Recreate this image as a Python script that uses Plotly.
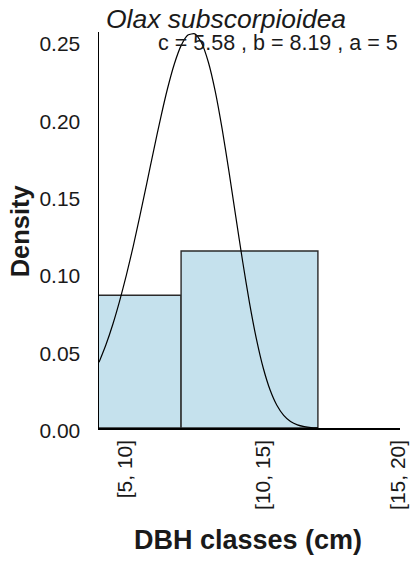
import plotly.graph_objects as go

# ---- data ----
class_labels = ["[5, 10]", "[10, 15]", "[15, 20]"]
class_tick_pos = [10.45, 15.5, 20.45]          # DBH (cm) positions of the class labels
bar_centers = [10.0, 15.0]                     # DBH (cm)
bar_widths = [5.0, 5.0]
bar_density = [0.0857, 0.1143]

# fitted Weibull curve (c = 5.58, b = 8.19, a = 5)
curve_dbh = [9.5, 9.75, 10.0, 10.25, 10.5, 10.75, 11.0, 11.25, 11.5, 11.75,
             12.0, 12.25, 12.5, 12.75, 13.0, 13.25, 13.5, 13.75, 14.0, 14.25,
             14.5, 14.75, 15.0, 15.25, 15.5, 15.75, 16.0, 16.25, 16.5, 16.75,
             17.0, 17.25, 17.5]
curve_density = [0.0424, 0.0536, 0.0667, 0.0818, 0.0987, 0.1173, 0.1374, 0.1583,
                 0.1795, 0.2000, 0.2189, 0.2349, 0.2469, 0.2537, 0.2545, 0.2486,
                 0.2360, 0.2172, 0.1931, 0.1655, 0.1363, 0.1075, 0.0808, 0.0577,
                 0.0389, 0.0247, 0.0147, 0.0082, 0.0042, 0.0020, 0.0009, 0.0003,
                 0.0001]

y_ticks = [0.00, 0.05, 0.10, 0.15, 0.20, 0.25]

species = "Olax subscorpioidea"
params_text = "c = 5.58 , b = 8.19 , a = 5"
x_title = "DBH classes (cm)"
y_title = "Density"

FONT = "Liberation Sans, Arial, sans-serif"
TXT = "#1a1a1a"

fig = go.Figure()
fig.add_trace(go.Bar(
    x=bar_centers, y=bar_density, width=bar_widths,
    marker=dict(color="#c5e1ed", line=dict(color="#2a2a2a", width=1.4)),
    showlegend=False, hoverinfo="skip",
))
fig.add_trace(go.Scatter(
    x=curve_dbh, y=curve_density, mode="lines",
    line=dict(color="#000000", width=1.2, shape="spline", smoothing=0.6),
    showlegend=False, hoverinfo="skip",
))

fig.update_layout(
    width=412, height=561,
    margin=dict(l=99, r=12, t=32, b=133, pad=0, autoexpand=False),
    paper_bgcolor="white", plot_bgcolor="white",
    font=dict(family=FONT, color=TXT),
    bargap=0,
    xaxis=dict(
        range=[9.5, 20.5], showgrid=False, zeroline=False, automargin=False,
        showline=True, linecolor="#000000", linewidth=1.5,
        tickvals=class_tick_pos, ticktext=class_labels, tickangle=-90,
        ticks="", ticklabelstandoff=2,
        tickfont=dict(family=FONT, size=21, color=TXT),
    ),
    yaxis=dict(
        range=[0, 0.2557], showgrid=False, zeroline=False, automargin=False,
        showline=True, linecolor="#000000", linewidth=1.5,
        tickvals=y_ticks, tickformat=".2f",
        ticks="", ticklabelstandoff=13, ticklabelshift=3,
        tickfont=dict(family=FONT, size=21, color=TXT),
    ),
    annotations=[
        dict(text=species, xref="paper", yref="paper", x=0.422, y=1.033,
             xanchor="center", yanchor="middle", showarrow=False,
             font=dict(family=FONT, size=26.5, color=TXT, style="italic")),
        dict(text=params_text, xref="paper", yref="paper", x=1.0, y=0.972,
             xanchor="right", yanchor="middle", showarrow=False,
             font=dict(family=FONT, size=21.5, color=TXT)),
        dict(text="<b>" + x_title + "</b>", xref="paper", yref="paper", x=0.495, y=-0.282,
             xanchor="center", yanchor="middle", showarrow=False,
             font=dict(family=FONT, size=27, color=TXT)),
        dict(text="<b>" + y_title + "</b>", xref="paper", yref="paper", x=-0.262, y=0.497,
             xanchor="center", yanchor="middle", showarrow=False, textangle=-90,
             font=dict(family=FONT, size=25.5, color=TXT)),
    ],
)

fig.write_html("out.html",
               config={"displayModeBar": False, "staticPlot": True},
               post_script="document.body.style.margin='0';document.body.style.padding='0';")
